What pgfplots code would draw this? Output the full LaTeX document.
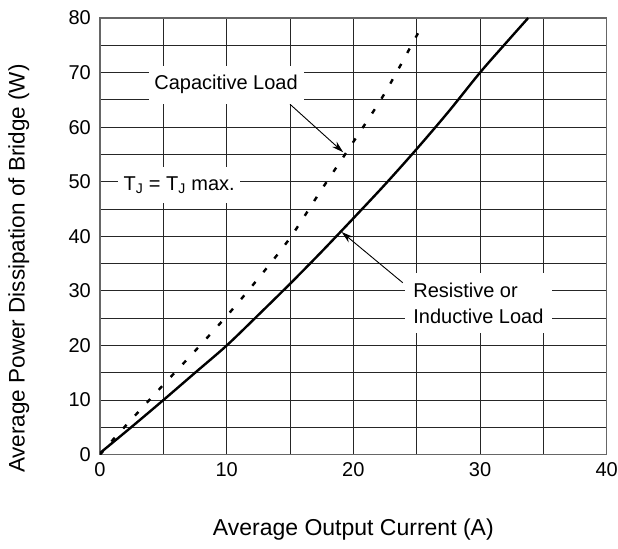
\documentclass[border=0pt]{standalone}
\usepackage{fontspec}
\setmainfont{Liberation Sans}
\usepackage{pgfplots}
\pgfplotsset{compat=1.18}
\usetikzlibrary{arrows.meta}

\begin{document}
\begin{tikzpicture}
\begin{axis}[
  scale only axis,
  width=506.7bp, height=436.7bp,
  xmin=0, xmax=40, ymin=0, ymax=80,
  xtick={0,10,...,40}, ytick={0,10,...,80},
  minor xtick={5,15,...,35}, minor ytick={5,15,...,75},
  grid=both,
  major grid style={black!85, line width=0.9bp},
  minor grid style={black!85, line width=0.9bp},
  major tick length=0pt, minor tick length=0pt,
  axis line style={black!60, line width=1.2bp},
  /pgf/number format/assume math mode=true,
  tick label style={font=\fontsize{20bp}{24bp}\selectfont, inner sep=0pt},
  yticklabel style={xshift=-9bp},
  xticklabel style={yshift=-7.5bp},
  xlabel={Average Output Current (A)},
  ylabel={Average Power Dissipation of Bridge (W)},
  xlabel style={font=\fontsize{23bp}{27bp}\selectfont,
                at={(axis description cs:0.5,-0.172)}, anchor=center},
  ylabel style={font=\fontsize{22.5bp}{27bp}\selectfont,
                at={(axis description cs:-0.160,0.426)}, anchor=center},
]
% resistive or inductive load
\addplot[black, line width=2.4bp, smooth] coordinates {
  (0,0.3) (2.5,5.1) (5,10) (7.5,15) (10,20) (12.5,25.6) (15,31.3)
  (17.5,37.2) (20,43.3) (22.5,49.5) (25,56) (27.5,62.8) (30,70)
  (32,75.3) (33.8,80)};
% capacitive load
\addplot[black, line width=2.4bp, smooth, dash pattern=on 5bp off 12.5bp] coordinates {
  (0,0) (1.2,3.2) (2.5,6.5) (5,12.8) (7.5,19) (10,25.4) (12.5,32.3)
  (15,39.7) (17.5,48.6) (20,57.3) (22.5,66.3) (25.1,77.2)};

\draw[black, line width=0.9bp, -{Stealth[length=12bp,width=7bp]}]
  (axis cs:15.0,64.2) -- (axis cs:19.2,55.4);
\draw[black, line width=0.9bp, -{Stealth[length=12bp,width=7bp]}]
  (axis cs:23.9,31.5) -- (axis cs:19.07,40.8);

\node[fill=white, inner sep=0pt, minimum width=155bp, minimum height=38bp,
      font=\fontsize{20bp}{24bp}\selectfont]
  at (axis cs:9.95,67.8) {Capacitive Load};
\node[fill=white, inner sep=0pt, minimum width=122bp, minimum height=36bp,
      font=\fontsize{20bp}{24bp}\selectfont]
  at (axis cs:6.25,49.4) {T\textsubscript{J} = T\textsubscript{J} max.};
\node[fill=white, inner xsep=8bp, inner ysep=0pt, minimum width=146.7bp,
      minimum height=60bp, align=left,
      font=\fontsize{20bp}{26bp}\selectfont]
  at (axis cs:29.87,27.8) {Resistive or\\Inductive Load};
\end{axis}
\pgfresetboundingbox
\path ([xshift=-100bp,yshift=-94.3bp]current axis.south west)
  rectangle ([xshift=11.3bp,yshift=18bp]current axis.north east);
\end{tikzpicture}
\end{document}
